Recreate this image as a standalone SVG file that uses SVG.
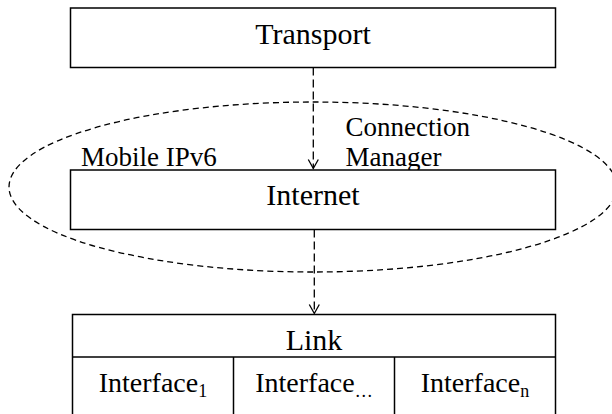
<svg xmlns="http://www.w3.org/2000/svg" width="612" height="414" viewBox="0 0 612 414">
  <style>
    .box { fill: #ffffff; stroke: #000000; stroke-width: 1.5; }
    .sep { fill: none; stroke: #000000; stroke-width: 1.5; }
    .conn { fill: none; stroke: #000000; stroke-width: 1.3; stroke-dasharray: 8 4; }
    .zone { fill: none; stroke: #000000; stroke-width: 1.3; stroke-dasharray: 6 4; }
    .title { font-family: "Liberation Serif", "Times New Roman", serif; font-size: 30px; fill: #000000; text-anchor: middle; }
    .label { font-family: "Liberation Serif", "Times New Roman", serif; font-size: 27px; fill: #000000; }
    .cell { font-family: "Liberation Serif", "Times New Roman", serif; font-size: 28px; fill: #000000; text-anchor: middle; }
    .sub { font-size: 18px; }
  </style>
  <defs>
    <marker id="openArrow" viewBox="0 0 12 12" refX="10" refY="6" markerWidth="12" markerHeight="12" markerUnits="userSpaceOnUse" orient="auto">
      <path d="M1,1 L10,6 L1,11" fill="none" stroke="#000000" stroke-width="1.3"/>
    </marker>
  </defs>

  <rect width="612" height="414" fill="#ffffff"/>

  <!-- dashed region grouping Mobile IPv6 and the Connection Manager around the Internet layer -->
  <g id="mobility-zone">
    <ellipse class="zone" cx="313" cy="187" rx="304" ry="85"/>
    <text class="label" x="81" y="166">Mobile IPv6</text>
    <text class="label" x="345.5" y="136">Connection</text>
    <text class="label" x="345.5" y="166">Manager</text>
  </g>

  <g id="transport">
    <rect class="box" x="70.5" y="8" width="485" height="59.5"/>
    <text class="title" x="313" y="44">Transport</text>
  </g>

  <g id="internet">
    <rect class="box" x="70.5" y="170" width="485" height="59.5"/>
    <text class="title" x="313" y="205">Internet</text>
  </g>

  <g id="link">
    <rect class="box" x="72.5" y="314.5" width="483" height="110"/>
    <line class="sep" x1="72.5" y1="357" x2="555.5" y2="357"/>
    <line class="sep" x1="233.5" y1="357" x2="233.5" y2="424"/>
    <line class="sep" x1="394.5" y1="357" x2="394.5" y2="424"/>
    <text class="title" x="314" y="349.5">Link</text>
    <text class="cell" x="153" y="391.7">Interface<tspan class="sub" dy="5.5">1</tspan></text>
    <text class="cell" x="314" y="391.7">Interface<tspan class="sub" dy="5.5">…</tspan></text>
    <text class="cell" x="475" y="391.7">Interface<tspan class="sub" dy="5.5">n</tspan></text>
  </g>

  <g id="connectors">
    <line class="conn" x1="313.3" y1="67.5" x2="313.3" y2="168.5" marker-end="url(#openArrow)"/>
    <line class="conn" x1="314.3" y1="229.5" x2="314.3" y2="313.5" marker-end="url(#openArrow)"/>
  </g>
</svg>
